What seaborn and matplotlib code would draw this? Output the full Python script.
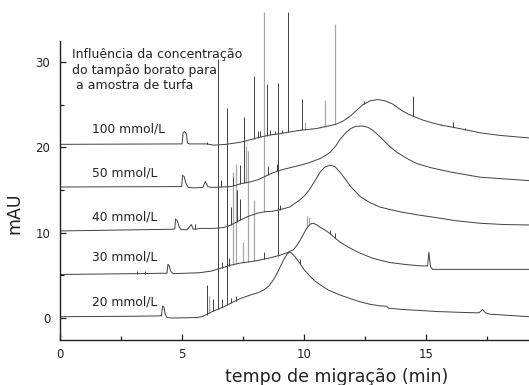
import numpy as np
import pandas as pd
import matplotlib
matplotlib.use("Agg")
import matplotlib.pyplot as plt
import seaborn as sns
from matplotlib.ticker import MultipleLocator

# ---------------- data ----------------
labels = ["20 mmol/L", "30 mmol/L", "40 mmol/L", "50 mmol/L", "100 mmol/L"]

t20 = [0, 3.0, 4.15, 4.20, 4.25, 4.30, 4.38, 4.6, 5.6, 5.8, 6.0, 6.2, 6.4, 6.7, 7.0,
       7.4, 7.8, 8.1, 8.35, 8.55, 8.72, 8.86, 9.0, 9.1, 9.2, 9.3, 9.38, 9.47, 9.62,
       9.82, 10.0, 10.23, 10.43, 10.64, 11.0, 11.46, 11.9, 12.28, 12.7, 13.1, 13.38,
       13.45, 14.0, 14.6, 15.5, 16.5, 17.15, 17.3, 17.42, 17.6, 18.4, 19.2]
v20 = [0.15, 0.2, 0.25, 1.4, 1.3, 0.5, 0.05, 0.0, 0.05, 0.15, 0.4, 0.7, 0.95, 1.3, 1.75,
       2.3, 2.7, 2.95, 3.3, 3.75, 4.4, 5.1, 5.9, 6.5, 7.05, 7.5, 7.7, 7.62, 7.2,
       6.4, 5.65, 4.9, 4.35, 3.9, 3.25, 2.7, 2.25, 1.9, 1.6, 1.42, 1.36,
       1.15, 1.0, 0.9, 0.75, 0.65, 0.6, 1.0, 0.6, 0.45, 0.3, 0.15]

t30 = [0, 3.2, 4.38, 4.42, 4.47, 4.53, 4.62, 5.7, 6.2, 6.6, 7.0, 7.4, 7.8, 8.2, 8.6,
       9.0, 9.3, 9.55, 9.7, 9.85, 10.0, 10.12, 10.25, 10.35, 10.5, 10.64, 10.85, 11.05,
       11.25, 11.46, 11.8, 12.28, 12.8, 13.5, 14.2, 14.8, 15.05, 15.1, 15.17, 15.25, 19.2]
v30 = [5.1, 5.2, 5.25, 6.3, 6.1, 5.5, 5.2, 5.3, 5.5, 5.85, 6.2, 6.45, 6.6, 6.8, 7.05,
       7.35, 7.65, 8.0, 8.5, 9.2, 10.0, 10.6, 11.0, 11.1, 10.95, 10.65, 10.3, 9.9,
       9.4, 8.9, 8.3, 7.6, 7.0, 6.5, 6.25, 6.1, 6.1, 7.7, 6.0, 5.7, 5.7]

t40 = [0, 4.6, 4.70, 4.73, 4.80, 4.88, 4.95, 5.2, 5.38, 5.45, 5.8, 6.3, 6.7, 7.0, 7.2,
       7.4, 7.7, 8.1, 8.4, 8.7, 9.0, 9.4, 9.8, 10.0, 10.2, 10.4, 10.65, 10.85, 11.05,
       11.25, 11.46, 11.7, 11.9, 12.1, 12.3, 12.7, 13.1, 13.6, 14.0, 14.6, 15.2, 16.2,
       17.2, 18.2, 19.2]
v40 = [10.2, 10.4, 10.45, 11.6, 11.4, 10.7, 10.35, 10.35, 10.95, 10.4, 10.5, 10.5, 10.6, 10.9, 11.2,
       11.5, 11.9, 12.3, 12.45, 12.5, 12.7, 13.0, 13.8, 14.3, 15.0, 15.9, 17.1, 17.7, 17.9,
       17.75, 17.1, 16.2, 15.4, 14.8, 14.2, 13.5, 13.0, 12.65, 12.4, 12.1, 11.85, 11.4,
       11.1, 10.95, 10.9]

t50 = [0, 4.98, 5.02, 5.08, 5.15, 5.25, 5.5, 5.85, 5.95, 6.05, 6.2, 7.0, 7.2, 7.4, 7.8,
       8.1, 8.4, 8.7, 9.0, 9.4, 9.84, 10.2, 10.66, 10.9, 11.07, 11.3, 11.48, 11.7, 11.9,
       12.1, 12.35, 12.6, 12.8, 13.0, 13.25, 13.5, 13.8, 14.2, 14.6, 15.2, 16.0, 17.2,
       18.2, 19.2]
v50 = [15.35, 15.4, 16.7, 16.6, 15.8, 15.3, 15.25, 15.3, 16.0, 15.4, 15.3, 15.4, 15.55, 15.75, 15.95,
       16.2, 16.6, 17.0, 17.3, 17.6, 17.9, 18.2, 18.7, 19.1, 19.45, 20.2, 21.0, 21.7, 22.2,
       22.45, 22.5, 22.35, 22.0, 21.5, 20.8, 20.1, 19.4, 18.7, 18.1, 17.6, 17.1, 16.5,
       16.3, 16.1]

t100 = [0, 5.0, 5.04, 5.1, 5.17, 5.22, 5.3, 6.0, 6.3, 6.8, 7.4, 7.8, 8.2, 8.6, 9.0,
        9.4, 9.84, 10.5, 11.3, 11.6, 11.9, 12.15, 12.4, 12.7, 13.0, 13.3, 13.6, 13.8,
        14.0, 14.25, 14.5, 14.85, 15.2, 15.6, 16.0, 16.7, 17.2, 18.0, 19.2]
v100 = [20.35, 20.4, 21.7, 21.85, 21.6, 20.5, 20.4, 20.4, 20.25, 20.35, 20.6, 20.9, 21.2, 21.45, 21.6,
        21.8, 22.0, 22.2, 22.7, 23.1, 23.7, 24.35, 25.0, 25.45, 25.6, 25.45, 25.1, 24.7,
        24.3, 23.9, 23.6, 23.2, 22.9, 22.6, 22.4, 22.0, 21.7, 21.4, 21.1]

# strong narrow peaks (spikes): position and top value
s20_t = [6.00, 6.27, 6.48, 6.64, 6.84, 7.0, 7.2, 9.84]
s20_top = [3.9, 2.2, 30.3, 2.2, 24.6, 2.4, 2.6, 6.9]
s30_t = [3.15, 3.5, 6.65, 6.9, 8.36, 8.93, 11.05, 11.25]
s30_top = [5.45, 5.5, 6.6, 7.0, 7.7, 27.5, 10.3, 10.0]
s40_t = [5.53, 7.0, 7.25, 7.35, 9.0]
s40_top = [11.0, 13.0, 15.0, 14.0, 13.2]
s50_t = [6.6, 7.1, 7.35, 7.54, 8.5, 8.9]
s50_top = [16.2, 16.5, 17.9, 23.5, 17.8, 18.0]
s100_t = [6.0, 7.95, 8.1, 8.2, 8.48, 8.6, 8.8, 9.1, 9.34, 9.92,
          12.46, 14.47, 15.6, 16.07, 16.56]
s100_top = [20.6, 28.3, 21.9, 21.9, 27.4, 22.0, 21.9, 22.0, 35.9, 25.7,
            25.4, 26.0, 22.7, 23.0, 22.3]

# faint narrow peaks (drawn lighter in the reference)
f20_t, f20_top = [6.10], [2.6]
f30_t = [7.1, 7.2, 7.49, 7.7, 7.95, 10.1, 10.2]
f30_top = [17.1, 18.0, 8.9, 19.6, 13.8, 12.0, 11.8]
f40_t, f40_top = [8.36], [35.9]
f50_t, f50_top = [7.6], [20.2]
f100_t = [10.04, 10.86, 11.27]
f100_top = [23.0, 25.5, 34.5]

title_text = "Influência da concentração\ndo tampão borato para\n a amostra de turfa"

traces = [(t20, v20), (t30, v30), (t40, v40), (t50, v50), (t100, v100)]
spikes = [(s20_t, s20_top), (s30_t, s30_top), (s40_t, s40_top),
          (s50_t, s50_top), (s100_t, s100_top)]
faint = [(f20_t, f20_top), (f30_t, f30_top), (f40_t, f40_top),
         (f50_t, f50_top), (f100_t, f100_top)]

# ---------------- figure ----------------
sns.set_style("ticks")
plt.rcParams['font.family'] = ['DejaVu Sans']

W, H = 529, 385
fig = plt.figure(figsize=(W / 100, H / 100), dpi=100)
ax = fig.add_axes([60 / W, 45 / H, 469 / W, 299 / H])

line_col = "#404040"
faint_col = "#a8a8a8"
frames = []
for lab, (tt, vv) in zip(labels, traces):
    frames.append(pd.DataFrame({"t": tt, "v": vv, "trace": lab}))
df = pd.concat(frames, ignore_index=True)

for (tt, vv), (st, stop) in zip(traces, faint):
    base = np.interp(st, tt, vv)
    ax.vlines(st, base, stop, colors=faint_col, linewidth=0.9, clip_on=False)

sns.lineplot(data=df, x="t", y="v", hue="trace", units="trace", estimator=None,
             palette=[line_col] * len(labels), legend=False, linewidth=0.7,
             sort=False, ax=ax)

for (tt, vv), (st, stop) in zip(traces, spikes):
    base = np.interp(st, tt, vv)
    ax.vlines(st, base, stop, colors=line_col, linewidth=0.7, clip_on=False)

# trace labels
label_y = [1.9, 7.1, 11.8, 17.0, 22.2]
for lab, ly in zip(labels, label_y):
    ax.text(1.3, ly, lab, fontsize=8.8, va="center", ha="left", color="#222222")

ax.text(0.5, 31.6, title_text, fontsize=9, va="top", ha="left",
        linespacing=1.25, color="#222222")

ax.set_xlim(0, 19.2)
ax.set_ylim(-2.58, 32.46)
ax.xaxis.set_major_locator(MultipleLocator(5))
ax.xaxis.set_minor_locator(MultipleLocator(2.5))
ax.yaxis.set_major_locator(MultipleLocator(10))
ax.yaxis.set_minor_locator(MultipleLocator(5))
ax.tick_params(which="both", direction="in", color="#222222", width=0.9,
               labelsize=8.5, labelcolor="#222222")
ax.tick_params(which="major", length=4.5)
ax.tick_params(which="minor", length=3)
ax.tick_params(axis="x", pad=6)
ax.tick_params(axis="y", pad=7)

for side in ["top", "right"]:
    ax.spines[side].set_visible(False)
for side in ["left", "bottom"]:
    ax.spines[side].set_linewidth(1.0)
    ax.spines[side].set_color("#222222")

ax.set_xlabel("tempo de migração (min)", fontsize=12.5, color="#222222")
ax.set_ylabel("mAU", fontsize=12.5, color="#222222")
ax.xaxis.set_label_coords((337 - 60) / 469, -0.095)
ax.yaxis.set_label_coords(-0.078, 0.425)

fig.savefig("out.png", dpi=100)
